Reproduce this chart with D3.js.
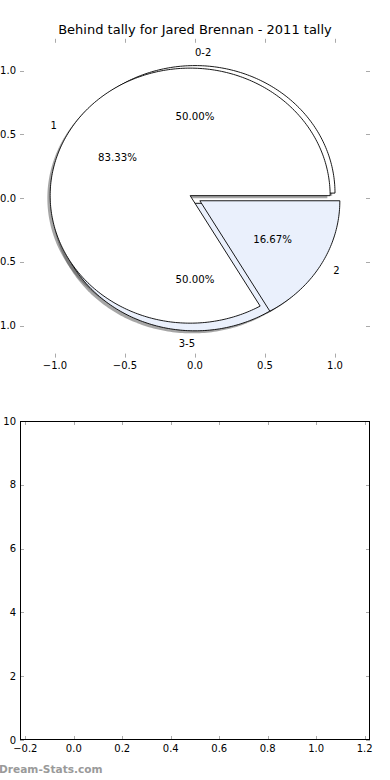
<!DOCTYPE html>
<html>
<head>
<meta charset="utf-8">
<script src="https://cdn.jsdelivr.net/npm/d3@7"></script>
<style>
  html, body { margin: 0; padding: 0; background: #fff; }
  svg { display: block; font-family: "DejaVu Sans", sans-serif; }
</style>
</head>
<body>
<svg id="chart" width="390" height="780"></svg>
<script>
// ---- data ----
const title = "Behind tally for Jared Brennan - 2011 tally";
const outerLabels = ["0-2", "3-5"];
const outerValues = [3, 3];
const outerColors = ["#ffffff", "#eaf0fc"];
const innerLabels = ["1", "2"];
const innerValues = [5, 1];
const innerColors = ["#ffffff", "#eaf0fc"];
const explodeAmount = 0.04;
const pieXTicks = [-1.0, -0.5, 0.0, 0.5, 1.0];
const pieYTicks = [-1.0, -0.5, 0.0, 0.5, 1.0];
const lowXTicks = [-0.2, 0.0, 0.2, 0.4, 0.6, 0.8, 1.0, 1.2];
const lowYTicks = [0, 2, 4, 6, 8, 10];
const watermark = "Dream-Stats.com";

const svg = d3.select("#chart");
const fmtMinus = s => s.replace("-", "\u2212");

// ---- top (pie) axes ----
const px = d3.scaleLinear().domain([-1.25, 1.25]).range([20, 370]);
const py = d3.scaleLinear().domain([-1.25, 1.25]).range([357.6, 38.8]);

const gTop = svg.append("g");
const line = d3.line().x(d => px(d[0])).y(d => py(d[1]));

function wedgePoints(cx, cy, t1, t2, dx = 0, dy = 0) {
  const n = Math.max(8, Math.ceil((t2 - t1) / (Math.PI / 180)));
  const pts = [[cx + dx, cy + dy]];
  for (let i = 0; i <= n; i++) {
    const t = t1 + (t2 - t1) * i / n;
    pts.push([cx + dx + Math.cos(t), cy + dy + Math.sin(t)]);
  }
  pts.push([cx + dx, cy + dy]);
  return pts;
}

const pieGen = d3.pie().sort(null).value(d => d);
function buildPie(values, labels, colors) {
  const total = d3.sum(values);
  return pieGen(values).map((a, i) => {
    const tm = (a.startAngle + a.endAngle) / 2;
    return {
      label: labels[i], color: colors[i], value: a.value, pct: 100 * a.value / total,
      t1: a.startAngle, t2: a.endAngle, tm,
      cx: explodeAmount * Math.cos(tm), cy: explodeAmount * Math.sin(tm)
    };
  });
}
const pies = [buildPie(outerValues, outerLabels, outerColors),
              buildPie(innerValues, innerLabels, innerColors)];
const allWedges = pies.flat();

// shadows (below all wedges)
gTop.append("g").selectAll("path").data(allWedges).join("path")
  .attr("d", w => line(wedgePoints(w.cx, w.cy, w.t1, w.t2, -0.02, -0.02)) + "Z")
  .attr("fill", "rgba(77,77,77,0.5)")
  .attr("stroke", "none");

// wedges
gTop.append("g").selectAll("path").data(allWedges).join("path")
  .attr("d", w => line(wedgePoints(w.cx, w.cy, w.t1, w.t2)) + "Z")
  .attr("fill", w => w.color)
  .attr("stroke", "#000")
  .attr("stroke-width", 0.9)
  .attr("stroke-linejoin", "miter");

// labels
allWedges.forEach(w => {
  const lx = w.cx + 1.1 * Math.cos(w.tm), ly = w.cy + 1.1 * Math.sin(w.tm);
  gTop.append("text")
    .attr("x", px(lx)).attr("y", py(ly))
    .attr("text-anchor", lx > 0 ? "start" : "end")
    .attr("dominant-baseline", "central")
    .attr("font-size", 10).attr("fill", "#000")
    .text(w.label);
  const qx = w.cx + 0.6 * Math.cos(w.tm), qy = w.cy + 0.6 * Math.sin(w.tm);
  gTop.append("text")
    .attr("x", px(qx)).attr("y", py(qy))
    .attr("text-anchor", "middle")
    .attr("dominant-baseline", "central")
    .attr("font-size", 10.2).attr("fill", "#000")
    .text(w.pct.toFixed(2) + "%");
});

// ticks for the pie axes (frame off, ticks on)
const tickColor = "#aaa";
const fmt1 = d3.format(".1f");
function drawTicks(g, xs, ys, xT, yT, xf, yf, frame) {
  const [x0, x1] = xs.range();
  const [y0, y1] = ys.range(); // y0 bottom, y1 top
  const tg = g.append("g").attr("stroke", tickColor).attr("stroke-width", 1);
  xT.forEach(t => {
    const x = Math.round(xs(t)) + 0.5;
    tg.append("line").attr("x1", x).attr("x2", x).attr("y1", y0).attr("y2", y0 - 4);
    tg.append("line").attr("x1", x).attr("x2", x).attr("y1", y1).attr("y2", y1 + 4);
    g.append("text").attr("x", xs(t)).attr("y", y0 + 4)
      .attr("dy", "0.76em").attr("text-anchor", "middle")
      .attr("font-size", 10).attr("fill", "#000").text(xf(t));
  });
  yT.forEach(t => {
    const y = Math.round(ys(t)) + 0.5;
    tg.append("line").attr("x1", x0).attr("x2", x0 + 4).attr("y1", y).attr("y2", y);
    tg.append("line").attr("x1", x1).attr("x2", x1 - 4).attr("y1", y).attr("y2", y);
    g.append("text").attr("x", x0 - 4).attr("y", ys(t))
      .attr("dominant-baseline", "central").attr("text-anchor", "end")
      .attr("font-size", 10).attr("fill", "#000").text(yf(t));
  });
  if (frame) {
    g.append("rect").attr("x", x0 + 0.5).attr("y", y1 + 0.5)
      .attr("width", x1 - x0 - 1).attr("height", y0 - y1 - 1)
      .attr("fill", "none").attr("stroke", "#000").attr("stroke-width", 1);
  }
}
drawTicks(gTop, px, py, pieXTicks, pieYTicks, t => fmtMinus(fmt1(t)), t => fmtMinus(fmt1(t)), false);

// title
svg.append("text").attr("x", 195).attr("y", 34)
  .attr("text-anchor", "middle").attr("font-size", 13).attr("fill", "#000")
  .text(title);

// ---- bottom (empty) axes ----
const bx = d3.scaleLinear().domain([-0.222, 1.222]).range([20, 370]);
const by = d3.scaleLinear().domain([0, 10]).range([740, 421]);
const gBot = svg.append("g");
drawTicks(gBot, bx, by, lowXTicks, lowYTicks, t => fmtMinus(fmt1(t)), t => String(t), true);

// watermark
svg.append("text").attr("x", -1).attr("y", 772.5)
  .attr("font-size", 10.6).attr("font-weight", "bold").attr("fill", "#9a9a9a")
  .text(watermark);
</script>
</body>
</html>
